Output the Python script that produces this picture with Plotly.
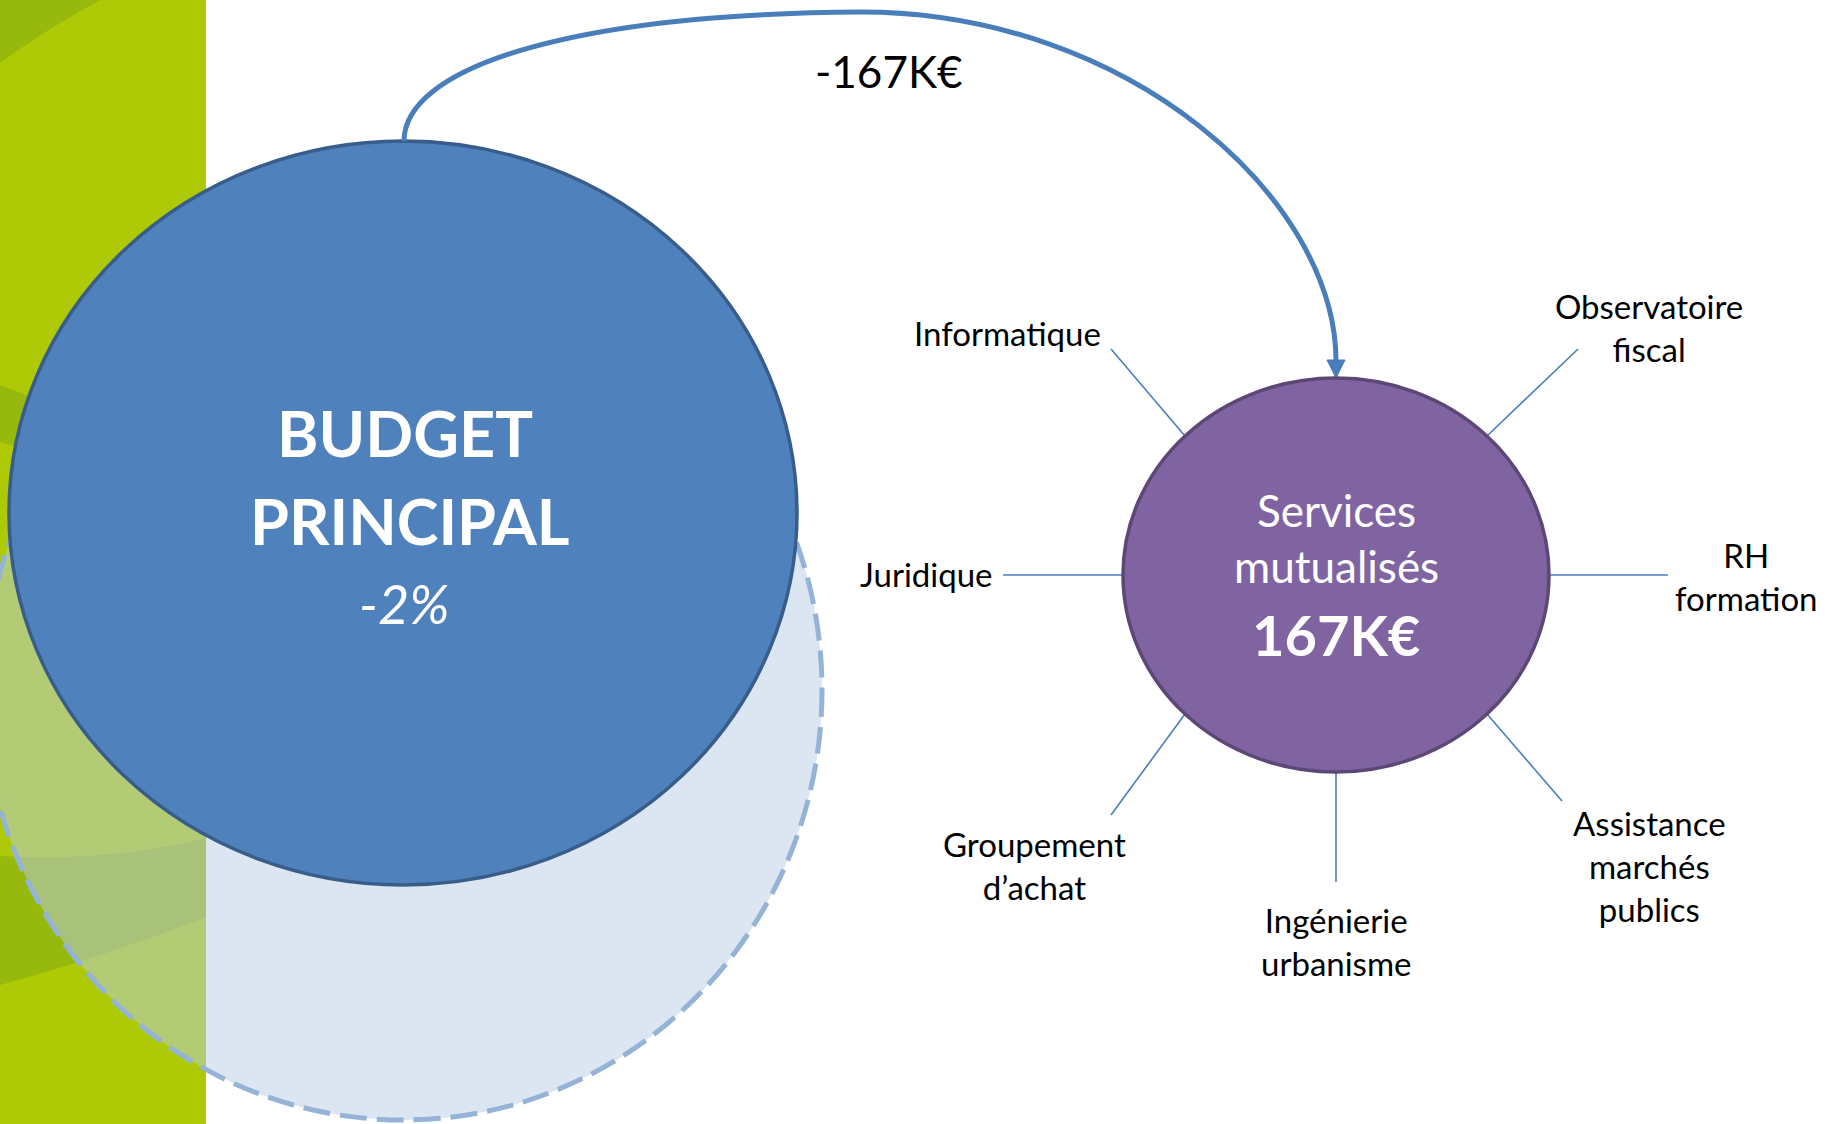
import plotly.graph_objects as go

# ---------------- data ----------------
W, H = 1825, 1124

# main nodes: centre x, centre y, radius x, radius y
budget_node = [403, 513, 394, 372]
budget_shadow = [403, 690, 419, 430]
services_node = [1336, 575, 213, 197]

budget_lines = ["BUDGET", "PRINCIPAL", "-2%"]
budget_line_y = [432, 520, 603]

services_lines = ["Services", "mutualisés", "<b>167K€</b>"]
services_line_y = [510, 566, 634]

transfer_label = "-167K€"
transfer_pos = [889, 71]

# satellite services: label, spoke start (x,y), spoke end (x,y), label centre (x,y)
sat_labels = ["Informatique", "Observatoire<br>fiscal", "Juridique", "RH<br>formation",
              "Groupement<br>d’achat", "Ingénierie<br>urbanisme", "Assistance<br>marchés<br>publics"]
sat_start_x = [1185, 1487, 1123, 1549, 1185, 1336, 1487]
sat_start_y = [436, 436, 575, 575, 714, 773, 714]
sat_end_x = [1111, 1578, 1003, 1668, 1111, 1336, 1562]
sat_end_y = [349, 349, 575, 575, 815, 882, 801]
sat_text_x = [1007, 1649, 926, 1746, 1034, 1336, 1649]
sat_text_y = [333, 327, 574, 576, 865, 941, 866]

# transfer arrow (bezier control points)
arrow_pts_x = [404, 404, 560, 861, 1130, 1336, 1336]
arrow_pts_y = [141, 70, 14, 12, 12, 200, 361]
arrow_tip = [1336, 378]

# colours
GREEN = "#aec905"
GREEN_DARK = "#97b80c"
BLUE = "#4f81bd"
BLUE_EDGE = "#385d8a"
PURPLE = "#8064a2"
PURPLE_EDGE = "#5c4776"
LINK = "#4a7ebb"

fig = go.Figure()
shapes = []

# decorative green stripe
shapes.append(dict(type="rect", x0=0, x1=206, y0=0, y1=H, fillcolor=GREEN, line_width=0, layer="below"))
shapes.append(dict(type="path", path="M0,0 L100,0 Q45,30 0,63 Z", fillcolor=GREEN_DARK, line_width=0, layer="below"))
shapes.append(dict(type="path", path="M0,385 Q20,392 40,402 L40,455 Q20,447 0,442 Z", fillcolor=GREEN_DARK, line_width=0, layer="below"))
shapes.append(dict(type="path", path="M0,856 Q110,862 206,838 L206,917 Q110,955 0,985 Z", fillcolor=GREEN_DARK, line_width=0, layer="below"))

# dashed "previous" budget
cx, cy, rx, ry = budget_shadow
shapes.append(dict(type="circle", x0=cx - rx, x1=cx + rx, y0=cy - ry, y1=cy + ry,
                   fillcolor="rgba(185,205,229,0.5)",
                   line=dict(color="#95b3d7", width=5, dash="27px,10px")))

# budget principal
cx, cy, rx, ry = budget_node
shapes.append(dict(type="circle", x0=cx - rx, x1=cx + rx, y0=cy - ry, y1=cy + ry,
                   fillcolor=BLUE, line=dict(color=BLUE_EDGE, width=3.5)))

# transfer arrow
p = list(zip(arrow_pts_x, arrow_pts_y))
path = (f"M{p[0][0]},{p[0][1]} C{p[1][0]},{p[1][1]} {p[2][0]},{p[2][1]} {p[3][0]},{p[3][1]} "
        f"C{p[4][0]},{p[4][1]} {p[5][0]},{p[5][1]} {p[6][0]},{p[6][1]}")
shapes.append(dict(type="path", path=path, line=dict(color=LINK, width=5)))
tx, ty = arrow_tip
shapes.append(dict(type="path", path=f"M{tx-9},{ty-18} L{tx+9},{ty-18} L{tx},{ty} Z",
                   fillcolor=LINK, line=dict(color=LINK, width=1)))

# spokes
for x0, y0, x1, y1 in zip(sat_start_x, sat_start_y, sat_end_x, sat_end_y):
    shapes.append(dict(type="line", x0=x0, y0=y0, x1=x1, y1=y1, line=dict(color=LINK, width=1.6)))

# services circle
cx, cy, rx, ry = services_node
shapes.append(dict(type="circle", x0=cx - rx, x1=cx + rx, y0=cy - ry, y1=cy + ry,
                   fillcolor=PURPLE, line=dict(color=PURPLE_EDGE, width=3.5)))

annotations = []
# budget text
annotations.append(dict(x=budget_node[0] + 2, y=budget_line_y[0], text=f"<b>{budget_lines[0]}</b>",
                        font=dict(family="Lato", size=63, color="white")))
annotations.append(dict(x=budget_node[0] + 6, y=budget_line_y[1], text=f"<b>{budget_lines[1]}</b>",
                        font=dict(family="Lato", size=63, color="white")))
annotations.append(dict(x=budget_node[0] + 1, y=budget_line_y[2], text=f"<i>{budget_lines[2]}</i>",
                        font=dict(family="Lato", size=54, color="white")))
# services text
for i, (t, y) in enumerate(zip(services_lines, services_line_y)):
    annotations.append(dict(x=services_node[0], y=y, text=t,
                            font=dict(family="Lato", size=56 if i == 2 else 44, color="white")))
# transfer label
annotations.append(dict(x=transfer_pos[0], y=transfer_pos[1], text=transfer_label,
                        font=dict(family="Lato", size=44, color="black")))
# satellites
for t, x, y in zip(sat_labels, sat_text_x, sat_text_y):
    annotations.append(dict(x=x, y=y, text=t, font=dict(family="Lato", size=33, color="black")))

for a in annotations:
    a.update(xref="x", yref="y", showarrow=False, xanchor="center", yanchor="middle", align="center")

fig.update_layout(
    width=W, height=H, margin=dict(l=0, r=0, t=0, b=0),
    paper_bgcolor="white", plot_bgcolor="white",
    xaxis=dict(range=[0, W], visible=False, fixedrange=True),
    yaxis=dict(range=[H, 0], visible=False, fixedrange=True),
    shapes=shapes, annotations=annotations, showlegend=False,
)
fig.write_html("out.html", config={"displayModeBar": False},
               post_script="document.body.style.margin='0';document.body.style.overflow='hidden';")
